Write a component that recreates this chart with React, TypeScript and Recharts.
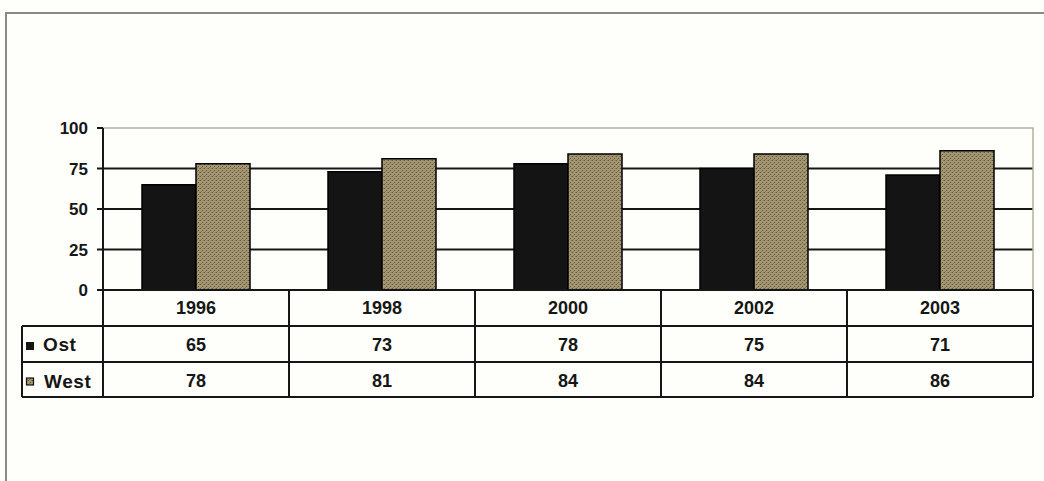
import { BarChart, Bar, XAxis, YAxis, CartesianGrid, ReferenceArea } from 'recharts';

const years = ['1996', '1998', '2000', '2002', '2003'];
const ostValues = [65, 73, 78, 75, 71];
const westValues = [78, 81, 84, 84, 86];
const yTicks = [0, 25, 50, 75, 100];

const data = years.map((year, i) => ({ year, Ost: ostValues[i], West: westValues[i] }));

const W = 1044;
const H = 481;
const MARGIN = { top: 128, right: 11, bottom: 84, left: 43 };
const Y_AXIS_W = 60;
const TABLE_H = 107;
const ROW_H = [36, 36, 35];
const BAND = (W - MARGIN.left - Y_AXIS_W - MARGIN.right) / years.length;
const HEAD_LEFT = 22;

const INK = '#161616';
const FONT = '"Liberation Sans", Arial, sans-serif';

// the data table under the plot, one column per year
function TableColumn(props: any) {
  const { x, y, index } = props;
  const row = data[index];
  const left = x - BAND / 2;
  const right = x + BAND / 2;
  const r1 = y + ROW_H[0];
  const r2 = r1 + ROW_H[1];
  const r3 = r2 + ROW_H[2];
  const textProps = { fontFamily: FONT, fontWeight: 700, fontSize: 18, fill: INK, textAnchor: 'middle' as const };
  const labelProps = { fontFamily: FONT, fontWeight: 700, fontSize: 19, fill: INK, letterSpacing: 0.6 };

  return (
    <g>
      {index === 0 && (
        <g>
          <line x1={left} y1={y} x2={left} y2={r3} stroke={INK} strokeWidth={2} />
          <line x1={HEAD_LEFT} y1={r1} x2={left} y2={r1} stroke={INK} strokeWidth={2} />
          <line x1={HEAD_LEFT} y1={r2} x2={left} y2={r2} stroke={INK} strokeWidth={2} />
          <line x1={HEAD_LEFT} y1={r3} x2={left} y2={r3} stroke={INK} strokeWidth={2} />
          <line x1={HEAD_LEFT} y1={r1} x2={HEAD_LEFT} y2={r3} stroke={INK} strokeWidth={2} />
          <rect x={26} y={r1 + 16} width={8} height={8} fill={INK} />
          <rect x={26.5} y={r2 + 16} width={7} height={7} fill="url(#westDots)" stroke={INK} strokeWidth={1.2} />
          <text x={43} y={r1 + ROW_H[1] / 2 + 7} {...labelProps}>
            Ost
          </text>
          <text x={44} y={r2 + ROW_H[2] / 2 + 8} {...labelProps}>
            West
          </text>
        </g>
      )}
      <line x1={right} y1={y} x2={right} y2={r3} stroke={INK} strokeWidth={2} />
      <line x1={left} y1={r1} x2={right} y2={r1} stroke={INK} strokeWidth={2} />
      <line x1={left} y1={r2} x2={right} y2={r2} stroke={INK} strokeWidth={2} />
      <line x1={left} y1={r3} x2={right} y2={r3} stroke={INK} strokeWidth={2} />
      <text x={x} y={y + ROW_H[0] / 2 + 6} {...textProps}>{row.year}</text>
      <text x={x} y={r1 + ROW_H[1] / 2 + 7} {...textProps}>{row.Ost}</text>
      <text x={x} y={r2 + ROW_H[2] / 2 + 7} {...textProps}>{row.West}</text>
    </g>
  );
}

export default function App() {
  return (
    <div style={{ position: 'absolute', left: 0, top: 0, width: W, height: H, background: '#fefefa', overflow: 'hidden' }}>
      <div
        style={{
          position: 'absolute',
          left: 5,
          top: 12,
          width: W,
          height: H,
          borderTop: '2px solid #8a8a84',
          borderLeft: '2px solid #8a8a84',
        }}
      />
      <div style={{ position: 'absolute', left: 0, top: 0 }}>
        <BarChart width={W} height={H} data={data} margin={MARGIN} barGap={0} barSize={54}>
          <defs>
            <pattern id="westDots" width={4} height={4} patternUnits="userSpaceOnUse">
              <rect width={4} height={4} fill="#a59772" />
              <rect x={0} y={0} width={1} height={1} fill="#5f5640" />
              <rect x={2} y={2} width={1} height={1} fill="#5f5640" />
              <rect x={3} y={0} width={1} height={1} fill="#857a5a" />
              <rect x={1} y={3} width={1} height={1} fill="#857a5a" />
            </pattern>
          </defs>
          <ReferenceArea y1={0} y2={100} fill="none" stroke="#b3b09c" strokeWidth={1.5} />
          <CartesianGrid vertical={false} horizontalValues={[25, 50, 75]} stroke={INK} strokeWidth={2} />
          <XAxis
            dataKey="year"
            height={TABLE_H}
            axisLine={{ stroke: INK, strokeWidth: 2 }}
            tickLine={false}
            tickSize={0}
            tickMargin={0}
            interval={0}
            tick={<TableColumn />}
          />
          <YAxis
            width={Y_AXIS_W}
            domain={[0, 100]}
            ticks={yTicks}
            interval={0}
            axisLine={{ stroke: INK, strokeWidth: 2 }}
            tickLine={{ stroke: INK, strokeWidth: 2 }}
            tickSize={6}
            tickMargin={9}
            tick={{ fontFamily: FONT, fontWeight: 700, fontSize: 17, fill: INK }}
          />
          <Bar dataKey="Ost" fill="#141414" stroke="#000" strokeWidth={1.5} isAnimationActive={false} />
          <Bar dataKey="West" fill="url(#westDots)" stroke="#000" strokeWidth={1.5} isAnimationActive={false} />
        </BarChart>
      </div>
    </div>
  );
}
